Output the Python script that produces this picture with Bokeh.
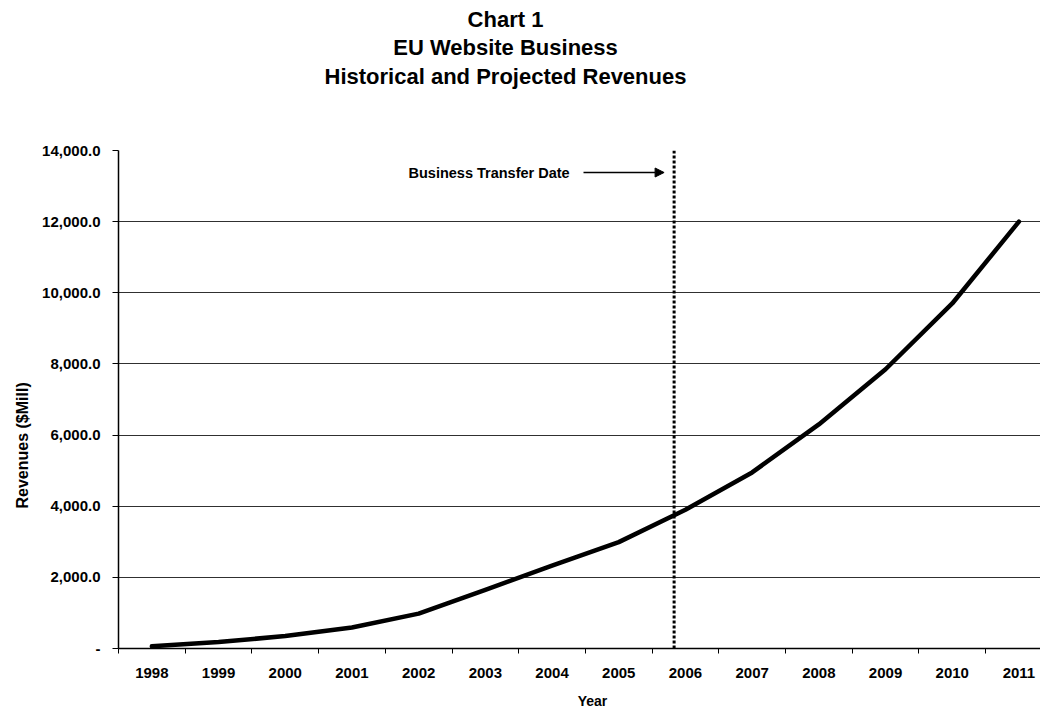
from bokeh.plotting import figure
from bokeh.layouts import column
from bokeh.models import (Range1d, FixedTicker, NumeralTickFormatter, Span, Label,
                          Arrow, NormalHead, Title)
from bokeh.embed import file_html
from bokeh.resources import INLINE

# ---- data ----
years = [1998, 1999, 2000, 2001, 2002, 2003, 2004, 2005, 2006, 2007, 2008, 2009, 2010, 2011]
revenues = [60, 180, 350, 590, 980, 1650, 2330, 2990, 3900, 4950, 6300, 7850, 9700, 12000]
y_ticks = [0, 2000, 4000, 6000, 8000, 10000, 12000, 14000]
transfer_date = 2005.83
title_lines = ["Chart 1", "EU Website Business", "Historical and Projected Revenues"]
annotation_text = "Business Transfer Date"
x_label = "Year"
y_label = "Revenues ($Mill)"

# ---- geometry (page pixels) ----
W, H = 1040, 708
TOP_H = 100                                # title strip height
BOT_H = 18                                 # "Year" strip height
MAIN_H = H - TOP_H - BOT_H
FL, FT, FR, FB = 118, 150, 1040, 648       # frame edges on page
CAT_W = 66.7                               # px per year
X0 = years[0] - 0.5
X1 = X0 + (FR - FL) / CAT_W
Y0, Y1 = 0, 14000

def px_x(px):
    return X0 + (px - FL) / CAT_W

def px_y(py):
    return Y0 + (FB - py) / (FB - FT) * (Y1 - Y0)

FONT = "Liberation Sans"


def text_strip(height):
    # frame spans the same page columns as the chart frame; x range in page pixels
    f = figure(width=W, height=height, output_backend="svg", toolbar_location=None,
               title=None, x_axis_type=None, y_axis_type=None,
               x_range=Range1d(FL, FR), y_range=Range1d(0, height),
               min_border_left=FL, min_border_right=0, min_border_top=0,
               min_border_bottom=0)
    f.outline_line_color = None
    f.grid.visible = False
    f.background_fill_color = "white"
    f.border_fill_color = "white"
    return f


# ---- title strip ----
top = text_strip(TOP_H)
for txt, cy in zip(title_lines, [19, 47, 76]):
    top.add_layout(Label(x=505, y=TOP_H - cy, text=txt, text_font=FONT,
                         text_font_style="bold", text_font_size="22px",
                         text_align="center", text_baseline="middle", text_color="black"))

# ---- main chart ----
p = figure(width=W, height=MAIN_H, output_backend="svg", toolbar_location=None, title=None,
           x_range=Range1d(X0, X1), y_range=Range1d(Y0, Y1),
           min_border_left=FL, min_border_right=0,
           min_border_top=FT - TOP_H, min_border_bottom=(H - BOT_H) - FB)
p.outline_line_color = None
p.background_fill_color = "white"
p.border_fill_color = "white"

# grid
p.xgrid.grid_line_color = None
p.ygrid.ticker = FixedTicker(ticks=y_ticks)
p.ygrid.grid_line_color = "#303030"
p.ygrid.grid_line_width = 1

# x axis
xa = p.xaxis[0]
xa.ticker = FixedTicker(ticks=years, minor_ticks=[y - 0.5 for y in years] + [years[-1] + 0.5])
xa.major_tick_out = 0
xa.major_tick_in = 0
xa.minor_tick_out = 5
xa.minor_tick_in = 0
xa.minor_tick_line_color = "black"
xa.axis_line_color = "black"
xa.axis_line_width = 1.5
xa.major_label_text_font = FONT
xa.major_label_text_font_style = "bold"
xa.major_label_text_font_size = "15px"
xa.major_label_text_color = "black"
xa.major_label_standoff = 14

# y axis
ya = p.yaxis[0]
ya.ticker = FixedTicker(ticks=y_ticks)
ya.formatter = NumeralTickFormatter(format="0,0.0")
ya.major_label_overrides = {0: "-"}
ya.major_tick_out = 6
ya.major_tick_in = 0
ya.minor_tick_line_color = None
ya.axis_line_color = "black"
ya.axis_line_width = 1.5
ya.major_label_text_font = FONT
ya.major_label_text_font_style = "bold"
ya.major_label_text_font_size = "15px"
ya.major_label_text_color = "black"
ya.major_label_standoff = 12

# revenue line
p.line(years, revenues, line_color="black", line_width=4.5, line_join="round", line_cap="round")

# business transfer date
p.add_layout(Span(location=transfer_date, dimension="height", line_color="black",
                  line_width=3, line_dash="3 2"))
ann_y = px_y(172)
p.add_layout(Label(x=px_x(408), y=ann_y, text=annotation_text, text_font=FONT,
                   text_font_style="bold", text_font_size="14.5px", text_align="left",
                   text_baseline="middle", text_color="black"))
p.add_layout(Arrow(x_start=px_x(583), y_start=ann_y, x_end=transfer_date - 0.15, y_end=ann_y,
                   line_color="black", line_width=1.5,
                   end=NormalHead(size=9, fill_color="black", line_color="black")))

# y axis title
p.add_layout(Title(text=y_label, text_font=FONT, text_font_style="bold",
                   text_font_size="16px", align="left", text_color="black",
                   offset=FB - 508, standoff=18), "left")

# ---- "Year" strip ----
bot = text_strip(BOT_H)
bot.add_layout(Label(x=592, y=BOT_H - (700 - (H - BOT_H)), text=x_label, text_font=FONT,
                     text_font_style="bold", text_font_size="14px", text_align="center",
                     text_baseline="middle", text_color="black"))

layout = column(top, p, bot, spacing=0)
open("out.html", "w").write(file_html(layout, INLINE))
